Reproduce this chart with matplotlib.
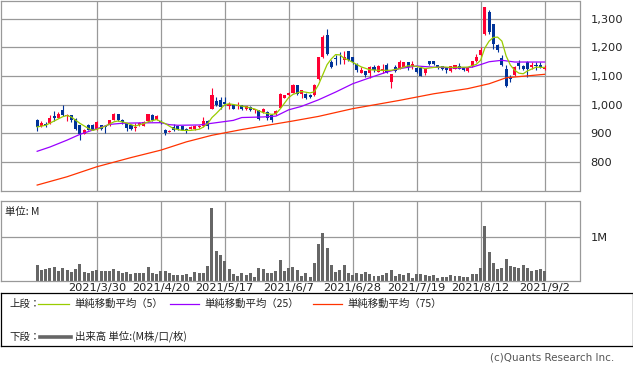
import numpy as np
import matplotlib
matplotlib.use('Agg')
import matplotlib.pyplot as plt

# daily candles, 2021/3/10 .. 2021/9/2 (trading-day index)
opens = [945, 925, 934, 937, 959, 955, 983, 960, 963, 951,
         928, 899, 930, 930, 916, 928, 927, 928, 948, 966,
         945, 936, 928, 920, 928, 927, 943, 963, 948, 943,
         913, 906, 922, 924, 924, 915, 916, 915, 922, 924,
         942, 986, 1013, 1015, 1009, 994, 1000, 994, 998, 986,
         992, 982, 980, 974, 974, 965, 966, 990, 1024, 1033,
         1041, 1067, 1038, 1038, 1035, 1033, 1088, 1166, 1242, 1149,
         1162, 1160, 1155, 1186, 1166, 1141, 1110, 1116, 1110, 1131,
         1114, 1117, 1137, 1079, 1131, 1126, 1131, 1148, 1134, 1128,
         1128, 1110, 1151, 1151, 1137, 1134, 1131, 1117, 1126, 1134,
         1128, 1117, 1135, 1151, 1172, 1248, 1323, 1283, 1210, 1164,
         1126, 1097, 1102, 1147, 1135, 1149, 1131, 1140, 1140, 1123]
highs = [951, 943, 940, 963, 977, 975, 1000, 968, 963, 955,
         928, 916, 931, 931, 943, 930, 927, 948, 972, 969,
         951, 937, 930, 937, 939, 943, 969, 966, 963, 945,
         916, 910, 934, 926, 926, 918, 924, 930, 929, 957,
         948, 1059, 1027, 1027, 1027, 1009, 1002, 1009, 1000, 996,
         994, 986, 980, 990, 978, 969, 980, 1041, 1035, 1044,
         1073, 1070, 1050, 1040, 1038, 1073, 1166, 1244, 1263, 1157,
         1174, 1183, 1186, 1187, 1166, 1146, 1133, 1116, 1134, 1137,
         1137, 1141, 1146, 1106, 1137, 1155, 1148, 1148, 1151, 1131,
         1128, 1123, 1151, 1151, 1137, 1134, 1131, 1134, 1139, 1146,
         1130, 1130, 1153, 1176, 1201, 1343, 1331, 1283, 1213, 1172,
         1137, 1102, 1134, 1155, 1137, 1151, 1149, 1149, 1149, 1140]
lows = [908, 922, 922, 934, 943, 955, 959, 943, 940, 913,
        876, 899, 910, 910, 913, 913, 901, 925, 946, 943,
        934, 908, 913, 908, 925, 925, 940, 943, 945, 934,
        893, 903, 908, 913, 911, 901, 914, 913, 920, 922,
        916, 986, 994, 986, 1000, 984, 985, 984, 982, 983,
        978, 972, 948, 972, 948, 940, 964, 988, 1022, 1027,
        1041, 1035, 1024, 1020, 1025, 1030, 1086, 1164, 1172, 1128,
        1140, 1141, 1141, 1153, 1143, 1114, 1110, 1096, 1094, 1114,
        1114, 1110, 1112, 1059, 1114, 1126, 1131, 1122, 1126, 1110,
        1100, 1102, 1137, 1137, 1126, 1120, 1110, 1114, 1124, 1123,
        1117, 1115, 1133, 1149, 1170, 1242, 1248, 1195, 1184, 1134,
        1062, 1079, 1100, 1126, 1120, 1097, 1126, 1120, 1128, 1120]
closes = [922, 937, 928, 955, 955, 969, 963, 963, 948, 916,
          897, 910, 913, 913, 940, 916, 921, 945, 969, 945,
          938, 919, 916, 922, 936, 940, 966, 945, 959, 937,
          901, 907, 910, 916, 913, 908, 922, 927, 927, 942,
          924, 1033, 998, 992, 1001, 1003, 986, 998, 984, 994,
          980, 984, 951, 986, 955, 945, 978, 1036, 1033, 1041,
          1067, 1038, 1050, 1023, 1027, 1070, 1166, 1238, 1178, 1131,
          1158, 1158, 1166, 1155, 1149, 1120, 1122, 1102, 1131, 1120,
          1134, 1126, 1112, 1106, 1117, 1149, 1148, 1131, 1143, 1114,
          1100, 1123, 1141, 1141, 1131, 1126, 1120, 1134, 1137, 1126,
          1120, 1128, 1151, 1166, 1190, 1343, 1253, 1213, 1190, 1137,
          1064, 1088, 1131, 1134, 1123, 1126, 1140, 1134, 1131, 1131]

# volume in millions
volume = [0.35, 0.23, 0.26, 0.29, 0.30, 0.22, 0.28, 0.23, 0.19, 0.26,
          0.37, 0.20, 0.17, 0.21, 0.23, 0.22, 0.22, 0.22, 0.26, 0.21,
          0.17, 0.19, 0.14, 0.17, 0.17, 0.17, 0.30, 0.17, 0.14, 0.21,
          0.21, 0.17, 0.12, 0.12, 0.12, 0.14, 0.09, 0.19, 0.17, 0.17,
          0.32, 1.66, 0.68, 0.57, 0.44, 0.26, 0.14, 0.10, 0.17, 0.12,
          0.17, 0.09, 0.28, 0.26, 0.17, 0.17, 0.21, 0.46, 0.21, 0.28,
          0.31, 0.23, 0.10, 0.17, 0.08, 0.39, 0.82, 1.09, 0.73, 0.35,
          0.19, 0.23, 0.35, 0.17, 0.12, 0.17, 0.14, 0.19, 0.14, 0.10,
          0.10, 0.12, 0.17, 0.23, 0.10, 0.14, 0.12, 0.17, 0.05, 0.14,
          0.14, 0.12, 0.10, 0.12, 0.05, 0.08, 0.08, 0.12, 0.10, 0.10,
          0.08, 0.08, 0.14, 0.14, 0.28, 1.23, 0.64, 0.39, 0.26, 0.28,
          0.48, 0.32, 0.30, 0.28, 0.35, 0.28, 0.21, 0.23, 0.26, 0.21]

# moving averages (index, value)
ma5_idx = [0, 2, 4, 6, 7, 8, 10, 12, 13, 14, 16, 18, 19, 21, 23, 25, 26, 28, 30, 32,
           34, 36, 38, 39, 40, 41, 42, 44, 45, 47, 49, 51, 53, 55, 56, 57, 58, 59, 60, 62,
           64, 65, 66, 67, 68, 69, 70, 71, 72, 73, 74, 76, 78, 80, 83, 85, 87, 89, 91, 93,
           95, 97, 99, 101, 103, 104, 105, 106, 107, 108, 109, 110, 111, 112, 113, 114, 115, 117, 119]
ma5_val = [922, 928, 943, 958, 962, 957, 935, 917, 910, 914, 925, 940, 943, 936, 925, 934, 940, 948, 934, 916,
           910, 910, 914, 922, 934, 955, 969, 1000, 1003, 998, 992, 985, 972, 966, 968, 985, 1005, 1025, 1036, 1046,
           1041, 1045, 1070, 1105, 1140, 1160, 1175, 1174, 1162, 1156, 1148, 1132, 1122, 1120, 1120, 1126, 1136, 1134, 1126, 1130,
           1132, 1130, 1131, 1131, 1141, 1155, 1198, 1222, 1235, 1236, 1222, 1170, 1138, 1120, 1110, 1108, 1118, 1131, 1130]
ma25_idx = [0, 3, 7, 10, 14, 17, 20, 23, 29, 31, 33, 38, 42, 46, 48, 53, 56, 59, 62, 66,
            70, 74, 78, 82, 85, 89, 93, 99, 102, 104, 106, 109, 112, 119]
ma25_val = [837, 852, 876, 896, 916, 931, 935, 936, 937, 930, 928, 929, 937, 945, 955, 957, 960, 982, 994, 1017,
            1044, 1073, 1094, 1114, 1126, 1135, 1131, 1128, 1131, 1140, 1150, 1155, 1149, 1149]
ma75_idx = [0, 7, 14, 22, 29, 35, 41, 48, 54, 60, 66, 74, 85, 93, 101, 106, 110, 119]
ma75_val = [719, 748, 783, 815, 841, 870, 893, 913, 928, 943, 959, 986, 1015, 1038, 1056, 1073, 1094, 1106]

date_idx = [14, 29, 44, 59, 74, 89, 104, 119]
date_labels = ['2021/3/30', '2021/4/20', '2021/5/17', '2021/6/7',
               '2021/6/28', '2021/7/19', '2021/8/12', '2021/9/2']
price_ticks = [800, 900, 1000, 1100, 1200, 1300]

UP = '#ff0033'
DOWN = '#003399'
GRID = '#999999'
TXT = '#222222'
JP = ['Noto Sans CJK JP', 'DejaVu Sans']

W, H = 633, 371


def px_axes(fig, x0, y0, x1, y1):
    # pixel box (top-left origin) -> figure axes
    return fig.add_axes([x0 / W, 1 - y1 / H, (x1 - x0) / W, (y1 - y0) / H])


fig = plt.figure(figsize=(W / 100, H / 100), dpi=100)
fig.patch.set_facecolor('white')

x = np.arange(len(closes))
o = np.array(opens); c = np.array(closes)
xlim = (-8.6, 127.2)

# ---- upper: candles + moving averages
ax = px_axes(fig, 0.5, 0.5, 579.5, 190.5)
ax.set_xlim(*xlim); ax.set_ylim(700, 1364)
for v in price_ticks:
    ax.axhline(v, color=GRID, lw=0.9, zorder=0)
for d in date_idx:
    ax.axvline(d, color=GRID, lw=0.9, zorder=0)
cols = [UP if cc >= oo else DOWN for oo, cc in zip(o, c)]
ax.vlines(x, lows, highs, colors=cols, lw=0.8, zorder=2)
ax.bar(x, np.maximum(np.abs(c - o), 2.5), bottom=np.minimum(o, c),
       width=0.72, color=cols, lw=0, zorder=3)
ax.plot(ma75_idx, ma75_val, color='#ff3300', lw=0.9, zorder=4)
ax.plot(ma25_idx, ma25_val, color='#9900ff', lw=0.9, zorder=4)
ax.plot(ma5_idx, ma5_val, color='#99cc00', lw=0.9, zorder=5)
ax.yaxis.tick_right()
ax.set_yticks(price_ticks)
ax.set_yticklabels([f'{v:,}' for v in price_ticks], fontsize=8.2, color=TXT)
ax.tick_params(axis='y', length=0, pad=8)
ax.set_xticks([])
for s in ax.spines.values():
    s.set_color(GRID); s.set_linewidth(0.9)

# ---- lower: volume
av = px_axes(fig, 0.5, 201, 579.5, 280.5)
av.set_xlim(*xlim); av.set_ylim(0, 1.81)
av.axhline(1.0, color=GRID, lw=0.9, zorder=0)
for d in date_idx:
    av.axvline(d, color=GRID, lw=0.9, zorder=0)
av.bar(x, volume, width=0.7, color='#666666', lw=0, zorder=2)
av.yaxis.tick_right()
av.set_yticks([1.0]); av.set_yticklabels(['1M'], fontsize=8.2, color=TXT)
av.tick_params(axis='y', length=0, pad=8)
av.set_xticks(date_idx)
av.set_xticklabels(date_labels, fontsize=8.2, color=TXT)
av.tick_params(axis='x', length=0, pad=1.5)
for s in av.spines.values():
    s.set_color(GRID); s.set_linewidth(0.9)
av.text(0.008, 0.93, '単位: M', transform=av.transAxes, fontsize=7.5,
        family=JP, color=TXT, va='top')

# ---- legend box
lg = px_axes(fig, 0.5, 292.5, 632.5, 346)
lg.set_xlim(0.5, 632.5); lg.set_ylim(346, 292.5)
lg.set_xticks([]); lg.set_yticks([])
for s in lg.spines.values():
    s.set_color('black'); s.set_linewidth(0.9)
ty1, ty2 = 303.5, 336.5
lg.text(9, ty1, '上段：', fontsize=7.5, family=JP, va='center', color=TXT)
for (x0, x1, colr, lab) in [(38, 69, '#99cc00', '単純移動平均（5）'),
                            (170, 199, '#9900ff', '単純移動平均（25）'),
                            (313, 342, '#ff3300', '単純移動平均（75）')]:
    lg.plot([x0, x1], [ty1, ty1], color=colr, lw=0.9)
    lg.text(x1 + 5, ty1, lab, fontsize=7.5, family=JP, va='center', color=TXT)
lg.text(9, ty2, '下段：', fontsize=7.5, family=JP, va='center', color=TXT)
lg.plot([40, 71], [ty2, ty2], color='#666666', lw=2.6)
lg.text(75, ty2, '出来高 単位:(M株/口/枚)', fontsize=7.5, family=JP, va='center', color=TXT)

fig.text(614 / W, 1 - 358 / H, '(c)Quants Research Inc.', ha='right', va='center',
         fontsize=7.5, color='#555555')

fig.savefig('out.png', dpi=100)
